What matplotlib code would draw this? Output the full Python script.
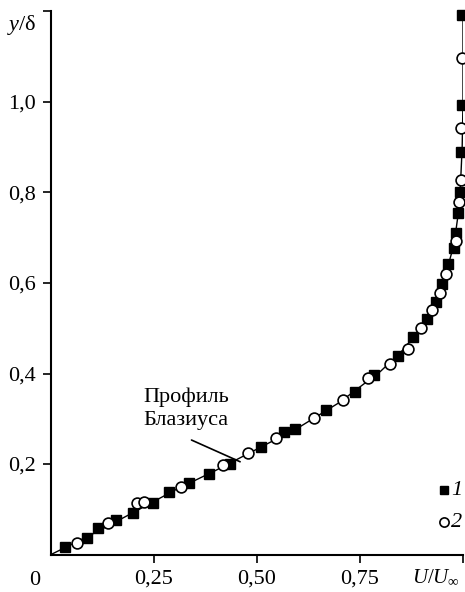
import matplotlib
matplotlib.use("Agg")
import matplotlib.pyplot as plt

plt.rcParams['font.family'] = ['Liberation Serif', 'DejaVu Serif']
plt.rcParams['mathtext.fontset'] = 'custom'
plt.rcParams['mathtext.rm'] = 'Liberation Serif'
plt.rcParams['mathtext.it'] = 'Liberation Serif:italic'

# series 1 (filled squares)
u1 = [0.034, 0.087, 0.115, 0.158, 0.200, 0.247, 0.286, 0.336, 0.384, 0.434,
      0.509, 0.566, 0.593, 0.667, 0.738, 0.785, 0.842, 0.879, 0.912, 0.934,
      0.948, 0.964, 0.978, 0.983, 0.989, 0.993, 0.995, 0.997, 0.997]
y1 = [0.017, 0.036, 0.058, 0.076, 0.092, 0.114, 0.139, 0.159, 0.177, 0.200,
      0.238, 0.271, 0.277, 0.319, 0.359, 0.396, 0.438, 0.481, 0.520, 0.558,
      0.597, 0.641, 0.677, 0.710, 0.754, 0.802, 0.890, 0.993, 1.192]

# series 2 (open circles)
u2 = [0.062, 0.139, 0.209, 0.226, 0.316, 0.418, 0.477, 0.546, 0.638, 0.708,
      0.769, 0.823, 0.867, 0.897, 0.924, 0.943, 0.959, 0.983, 0.991, 0.995,
      0.995, 0.997]
y2 = [0.026, 0.070, 0.113, 0.117, 0.150, 0.198, 0.225, 0.258, 0.301, 0.341,
      0.389, 0.421, 0.455, 0.500, 0.540, 0.577, 0.621, 0.693, 0.780, 0.828,
      0.942, 1.097]

# Blasius profile
ub = [0, 0.1, 0.2, 0.3, 0.4, 0.5, 0.6, 0.7, 0.8, 0.85, 0.9, 0.93, 0.95,
      0.965, 0.978, 0.988, 0.994, 0.998, 1.0, 1.0]
yb = [0, 0.045, 0.093, 0.142, 0.186, 0.233, 0.280, 0.336, 0.405, 0.448,
      0.502, 0.549, 0.600, 0.642, 0.685, 0.75, 0.82, 0.9, 1.0, 1.2]

xticks = [0.25, 0.5, 0.75]
xlabels = ['0,25', '0,50', '0,75']
yticks = [0.2, 0.4, 0.6, 0.8, 1.0]
ylabels = ['0,2', '0,4', '0,6', '0,8', '1,0']

fig = plt.figure(figsize=(4.65, 5.92), dpi=100)
ax = fig.add_axes([0.1097, 0.0633, 0.886, 0.9173])

ax.plot(ub, yb, color='black', lw=1.0, zorder=2)
ax.plot(u1, y1, 's', color='black', ms=7.6, mec='black', zorder=3,
        label='1', clip_on=False)
ax.plot(u2, y2, 'o', mfc='white', mec='black', mew=1.2, ms=7.8, zorder=4,
        label='2', clip_on=False)

ax.set_xlim(0, 1.0)
ax.set_ylim(0, 1.2)
ax.spines['top'].set_visible(False)
ax.spines['right'].set_visible(False)
for s in ('left', 'bottom'):
    ax.spines[s].set_linewidth(1.5)

ax.set_xticks(xticks + [1.0])
ax.set_xticklabels(xlabels + [''])
ax.set_yticks(yticks + [1.2])
ax.set_yticklabels(ylabels + [''])
ax.tick_params(direction='out', length=6, width=1.2, labelsize=16, pad=5)

ax.text(-0.04, -0.030, '0', transform=ax.transAxes, fontsize=16,
        ha='center', va='top')
ax.text(0.993, -0.026, r'$U/U_{\infty}$', transform=ax.transAxes,
        fontsize=15, ha='right', va='top')
ax.text(-0.034, 0.975, r'$y/\mathrm{\delta}$', transform=ax.transAxes,
        fontsize=16, ha='right', va='center')

# label for the Blasius curve with its leader line
ax.text(0.223, 0.370, 'Профиль\nБлазиуса', fontsize=16, ha='left', va='top',
        linespacing=1.32)
ax.annotate('', xy=(0.459, 0.205), xytext=(0.341, 0.253),
            arrowprops=dict(arrowstyle='-', color='black', lw=1.2,
                            shrinkA=0, shrinkB=0))

leg = ax.legend(loc='lower right', bbox_to_anchor=(1.022, 0.023), frameon=False,
                handlelength=0.6, handletextpad=0.2, labelspacing=0.98,
                markerscale=0.85, borderpad=0.2)
for t in leg.get_texts():
    t.set_fontsize(16)
    t.set_fontstyle('italic')

fig.savefig('out.png', dpi=100)
